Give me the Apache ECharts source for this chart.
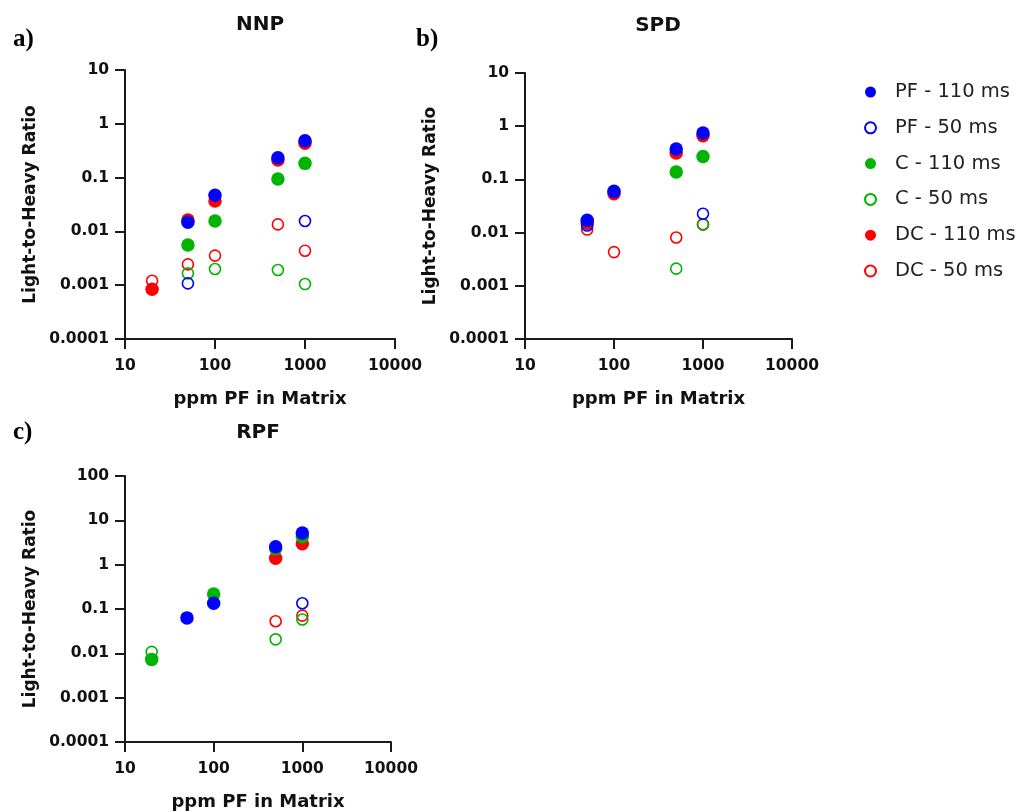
<!DOCTYPE html>
<html>
<head>
<meta charset="utf-8">
<script src="https://cdn.jsdelivr.net/npm/echarts@6.0.0/dist/echarts.min.js"></script>
<style>
html,body{margin:0;padding:0;background:#fff;}
#chart{width:1020px;height:812px;}
</style>
</head>
<body>
<div id="chart"></div>
<script>
// ---- data ----
const ppm = [20, 50, 100, 500, 1000];

const nnpPF110 = [null, 0.0148, 0.047, 0.234, 0.485];
const nnpPF50  = [null, 0.00108, null, null, 0.0156];
const nnpC110  = [null, 0.0056, 0.0156, 0.094, 0.184];
const nnpC50   = [null, 0.00166, 0.0020, 0.00192, 0.00105];
const nnpDC110 = [0.00084, 0.0163, 0.0367, 0.212, 0.434];
const nnpDC50  = [0.00121, 0.00244, 0.00355, 0.0135, 0.00438];

const spdPF110 = [null, 0.017, 0.0596, 0.372, 0.745];
const spdPF50  = [null, 0.0136, null, null, 0.0226];
const spdC110  = [null, null, null, 0.138, 0.27];
const spdC50   = [null, null, null, 0.0021, 0.0141];
const spdDC110 = [null, 0.015, 0.054, 0.313, 0.66];
const spdDC50  = [null, 0.0114, 0.0043, 0.0081, 0.0144];

const rpfPF110 = [null, 0.063, 0.135, 2.54, 5.2];
const rpfPF50  = [null, null, null, null, 0.135];
const rpfC110  = [0.0073, null, 0.218, 2.29, 4.25];
const rpfC50   = [0.0108, null, null, 0.0207, 0.058];
const rpfDC110 = [null, null, null, 1.39, 2.96];
const rpfDC50  = [null, null, null, 0.053, 0.071];

const panelTitles = ['NNP', 'SPD', 'RPF'];
const panelLetters = ['a)', 'b)', 'c)'];
const seriesNames = ['PF - 110 ms', 'PF - 50 ms', 'C - 110 ms', 'C - 50 ms', 'DC - 110 ms', 'DC - 50 ms'];
const yTickLabelsAB = ['0.0001', '0.001', '0.01', '0.1', '1', '10'];
const yTickLabelsC = ['0.0001', '0.001', '0.01', '0.1', '1', '10', '100'];
const xTickLabels = ['10', '100', '1000', '10000'];
const yAxisTitle = 'Light-to-Heavy Ratio';
const xAxisTitle = 'ppm PF in Matrix';

// ---- build ----
const panels = [
  {PF110: nnpPF110, PF50: nnpPF50, C110: nnpC110, C50: nnpC50, DC110: nnpDC110, DC50: nnpDC50, yLabels: yTickLabelsAB, ymax: 10},
  {PF110: spdPF110, PF50: spdPF50, C110: spdC110, C50: spdC50, DC110: spdDC110, DC50: spdDC50, yLabels: yTickLabelsAB, ymax: 10},
  {PF110: rpfPF110, PF50: rpfPF50, C110: rpfC110, C50: rpfC50, DC110: rpfDC110, DC50: rpfDC50, yLabels: yTickLabelsC, ymax: 100}
];

const grids = [
  {left: 125, top: 70, width: 270, height: 269},
  {left: 525, top: 73, width: 267, height: 266},
  {left: 125, top: 476, width: 266, height: 268}
];

const BLUE = '#0000ff', GREEN = '#00b400', RED = '#ff0000';
const FONT = 'DejaVu Sans';
const AX = '#1a1a1a';

function pts(vals) {
  const out = [];
  ppm.forEach((x, i) => { if (vals[i] != null) out.push([x, vals[i]]); });
  return out;
}

// draw order: DC50, DC110, C50, C110, PF50, PF110 (blue on top)
const styleDefs = [
  {key: 'DC50', name: 'DC - 50 ms', color: RED, open: true},
  {key: 'DC110', name: 'DC - 110 ms', color: RED, open: false},
  {key: 'C50', name: 'C - 50 ms', color: GREEN, open: true},
  {key: 'C110', name: 'C - 110 ms', color: GREEN, open: false},
  {key: 'PF50', name: 'PF - 50 ms', color: BLUE, open: true},
  {key: 'PF110', name: 'PF - 110 ms', color: BLUE, open: false}
];

const xAxes = [], yAxes = [], series = [];
panels.forEach((p, gi) => {
  xAxes.push({
    type: 'log', logBase: 10, gridIndex: gi, min: 10, max: 10000, interval: 1,
    axisLine: {show: true, lineStyle: {color: AX, width: 2}},
    axisTick: {show: true, length: 10, lineStyle: {color: AX, width: 2}},
    splitLine: {show: false},
    axisLabel: {
      margin: 19, color: '#111', fontFamily: FONT, fontWeight: 'bold', fontSize: 15.5,
      formatter: v => xTickLabels[Math.round(Math.log10(v)) - 1]
    },
    name: xAxisTitle, nameLocation: 'middle', nameGap: 51,
    nameTextStyle: {color: '#111', fontFamily: FONT, fontWeight: 'bold', fontSize: 18}
  });
  yAxes.push({
    type: 'log', logBase: 10, gridIndex: gi, min: 0.0001, max: p.ymax, interval: 1,
    axisLine: {show: true, lineStyle: {color: AX, width: 2}},
    axisTick: {show: true, length: 10, lineStyle: {color: AX, width: 2}},
    splitLine: {show: false},
    axisLabel: {
      margin: 16, color: '#111', fontFamily: FONT, fontWeight: 'bold', fontSize: 15.5,
      formatter: v => p.yLabels[Math.round(Math.log10(v)) + 4]
    },
    name: yAxisTitle, nameLocation: 'middle', nameGap: 86,
    nameTextStyle: {color: '#111', fontFamily: FONT, fontWeight: 'bold', fontSize: 17}
  });
  styleDefs.forEach(s => {
    series.push({
      type: 'scatter', name: s.name, xAxisIndex: gi, yAxisIndex: gi,
      data: pts(p[s.key]),
      symbol: 'circle',
      symbolSize: s.open ? 11 : 13.5,
      itemStyle: s.open
        ? {color: 'rgba(255,255,255,0)', borderColor: s.color, borderWidth: 1.6, opacity: 1}
        : {color: s.color, opacity: 1},
      emphasis: {disabled: true},
      animation: false
    });
  });
});

const titlePos = [[260, 25], [658, 26], [258, 433]];
const letterPos = [[13, 40], [416, 40], [13, 433]];
const graphics = [];
panelTitles.forEach((t, i) => {
  graphics.push({
    type: 'text', x: titlePos[i][0], y: titlePos[i][1],
    style: {text: t, fill: '#111', font: 'bold 20px "DejaVu Sans"', textAlign: 'center', textVerticalAlign: 'middle'}
  });
  graphics.push({
    type: 'text', x: letterPos[i][0], y: letterPos[i][1],
    style: {text: panelLetters[i], fill: '#000', font: 'bold 25px "Liberation Serif"', textAlign: 'left', textVerticalAlign: 'middle'}
  });
});

const chart = echarts.init(document.getElementById('chart'), null, {renderer: 'canvas'});
chart.setOption({
  backgroundColor: '#fff',
  animation: false,
  grid: grids,
  xAxis: xAxes,
  yAxis: yAxes,
  series: series,
  legend: {
    data: seriesNames,
    orient: 'vertical',
    left: 859, top: 77,
    itemWidth: 11, itemHeight: 11, itemGap: 15.8,
    icon: 'circle',
    selectedMode: false,
    textStyle: {color: '#222', fontFamily: FONT, fontSize: 19.5, padding: [0, 0, 0, 14]}
  },
  graphic: graphics
});
</script>
</body>
</html>
